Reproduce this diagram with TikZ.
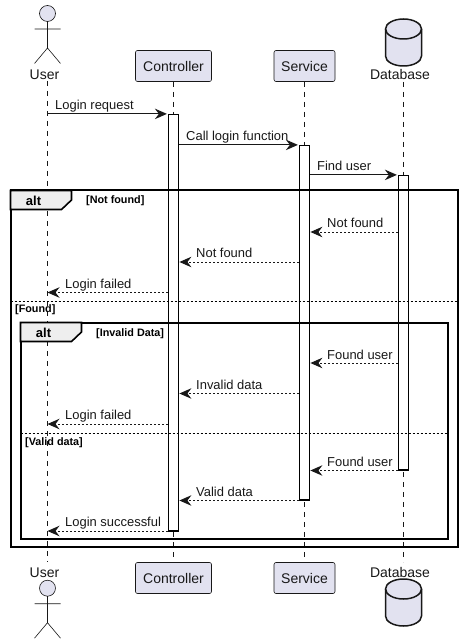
\documentclass[tikz,border=0pt]{standalone}
\usepackage{fontspec}
\setmainfont{Liberation Sans}
\usetikzlibrary{arrows.meta}
\definecolor{pfill}{HTML}{E2E2F0}
\definecolor{pline}{HTML}{181818}
\definecolor{tabfill}{HTML}{EEEEEE}
\tikzset{
  partbox/.style={draw=pline,line width=0.6pt,fill=pfill,rounded corners=2pt,inner sep=0pt,minimum height=31pt,font=\fontsize{14}{14}\selectfont,text=pline},
  lifeline/.style={draw=pline,line width=0.5pt,dash pattern=on 5pt off 5pt},
  activebar/.style={draw=black,line width=1.2pt,fill=white,inner sep=0pt,minimum width=10pt},
  msg/.style={draw=pline,line width=1pt,-{Stealth[length=12pt,width=10.5pt,inset=4pt,fill=pline]}},
  reply/.style={msg,dash pattern=on 2pt off 2pt},
  msgtext/.style={anchor=base west,inner sep=0pt,font=\fontsize{12.95}{13}\selectfont,text=pline},
  actortext/.style={anchor=base,inner sep=0pt,font=\fontsize{14}{14}\selectfont,text=pline},
  framebox/.style={draw=black,line width=2pt},
  tabshape/.style={draw=black,line width=1.6pt,fill=tabfill},
  sepline/.style={draw=black,line width=0.9pt,dash pattern=on 2pt off 2pt},
  guard/.style={anchor=base west,inner sep=0pt,font=\bfseries\fontsize{10.8}{11}\selectfont,text=black},
  alttext/.style={anchor=base,inner sep=0pt,font=\bfseries\fontsize{13}{13}\selectfont,text=black},
  actorline/.style={draw=pline,line width=0.6pt},
  dbline/.style={draw=pline,line width=1.5pt,fill=pfill},
  pics/actorfig/.style={code={
    \draw[actorline,fill=pfill] (0,0) circle (8);
    \draw[actorline] (0,8) -- (0,34.5) (-13,15.5) -- (13,15.5) (-13,50) -- (0,34.5) -- (13,50);
  }},
  pics/dbcyl/.style={code={
    \draw[dbline] (-18,10) .. controls (-18,4.5) and (-10,0) .. (0,0) .. controls (10,0) and (18,4.5) .. (18,10) -- (18,37) .. controls (18,42.5) and (10,47) .. (0,47) .. controls (-10,47) and (-18,42.5) .. (-18,37) -- cycle;
    \draw[dbline,fill=none] (-18,10) .. controls (-18,15.5) and (-10,20) .. (0,20) .. controls (10,20) and (18,15.5) .. (18,10);
  }}
}
\begin{document}
\begin{tikzpicture}[x=1pt,y=-1pt]
\useasboundingbox (0,0) rectangle (463,644);
\fill[white] (0,0) rectangle (463,644);

% lifeline ends
\coordinate (uT) at (47.5,81); \coordinate (uB) at (47.5,562);
\coordinate (cT) at (173.5,82); \coordinate (cB) at (173.5,562);
\coordinate (sT) at (304.5,82); \coordinate (sB) at (304.5,562);
\coordinate (dT) at (403.5,82); \coordinate (dB) at (403.5,562);
\draw[lifeline] (uT) -- (uB);
\draw[lifeline] (cT) -- (cB);
\draw[lifeline] (sT) -- (sB);
\draw[lifeline] (dT) -- (dB);

% participants
\pic at (47.5,13.5) {actorfig};
\node[actortext] (userT) at (44.5,80) {User};
\node[partbox,minimum width=76pt] (ctrlT) at (173.5,66) {Controller};
\node[partbox,minimum width=61pt] (servT) at (304.5,66) {Service};
\pic at (403.5,19) {dbcyl};
\node[actortext] (dbT) at (400,80) {Database};

\pic at (47.5,588.2) {actorfig};
\node[actortext] (userB) at (44.5,577) {User};
\node[partbox,minimum width=76pt] (ctrlB) at (173.5,578) {Controller};
\node[partbox,minimum width=61pt] (servB) at (304.5,578) {Service};
\pic at (403.5,579) {dbcyl};
\node[actortext] (dbB) at (400,577) {Database};

% activations
\node[activebar,minimum height=416.5pt] (actC) at (173.5,322.75) {};
\node[activebar,minimum height=354.5pt] (actS) at (304.5,322.75) {};
\node[activebar,minimum height=294.5pt] (actD) at (403.5,322.75) {};

% frames
\draw[framebox] (10.5,190.5) rectangle (457.5,546.5);
\draw[tabshape] (10.5,190.5) -- (71.5,190.5) -- (71.5,200) -- (61.5,209.5) -- (10.5,209.5) -- cycle;
\node[alttext] (alt1) at (33.5,205) {alt};
\node[guard] (g1) at (86,204) {[Not found]};
\draw[sepline] (10.5,301.5) -- (457.5,301.5);
\node[guard] (g2) at (15,312) {[Found]};

\draw[framebox] (20.5,322.5) rectangle (447.5,538.5);
\draw[tabshape] (20.5,322.5) -- (81.5,322.5) -- (81.5,332) -- (71.5,341.5) -- (20.5,341.5) -- cycle;
\node[alttext] (alt2) at (43.5,337) {alt};
\node[guard] (g3) at (96,336) {[Invalid Data]};
\draw[sepline] (20.5,433.5) -- (447.5,433.5);
\node[guard] (g4) at (25,445) {[Valid data]};

% message levels
\coordinate (y4) at (0,232);
\coordinate (y5) at (0,262);
\coordinate (y6) at (0,292.5);
\coordinate (y7) at (0,363);
\coordinate (y8) at (0,393.5);
\coordinate (y9) at (0,424);
\coordinate (y10) at (0,470.5);
\coordinate (y11) at (0,500.5);
\coordinate (y12) at (0,531);

% messages
\draw[msg] (uT |- actC.north) -- ([xshift=-1pt]actC.north west);
\node[msgtext] (m1) at (55,110) {Login request};
\draw[msg] (actC.east |- actS.north) -- ([xshift=-1pt]actS.north west);
\node[msgtext] (m2) at (186,140.5) {Call login function};
\draw[msg] (actS.east |- actD.north) -- ([xshift=-1pt]actD.north west);
\node[msgtext] (m3) at (317,171) {Find user};

\draw[reply] (actD.west |- y4) -- ([xshift=0.3pt]actS.east |- y4);
\node[msgtext] (m4) at (327,227) {Not found};
\draw[reply] (actS.west |- y5) -- ([xshift=0.3pt]actC.east |- y5);
\node[msgtext] (m5) at (196,257) {Not found};
\draw[reply] (actC.west |- y6) -- (uT |- y6);
\node[msgtext] (m6) at (65,288) {Login failed};

\draw[reply] (actD.west |- y7) -- ([xshift=0.3pt]actS.east |- y7);
\node[msgtext] (m7) at (327,359) {Found user};
\draw[reply] (actS.west |- y8) -- ([xshift=0.3pt]actC.east |- y8);
\node[msgtext] (m8) at (196,389) {Invalid data};
\draw[reply] (actC.west |- y9) -- (uT |- y9);
\node[msgtext] (m9) at (65,419) {Login failed};

\draw[reply] (actD.west |- y10) -- ([xshift=0.3pt]actS.east |- y10);
\node[msgtext] (m10) at (327,466) {Found user};
\draw[reply] (actS.west |- y11) -- ([xshift=0.3pt]actC.east |- y11);
\node[msgtext] (m11) at (196,496) {Valid data};
\draw[reply] (actC.west |- y12) -- (uT |- y12);
\node[msgtext] (m12) at (65,526.5) {Login successful};
\end{tikzpicture}
\end{document}
